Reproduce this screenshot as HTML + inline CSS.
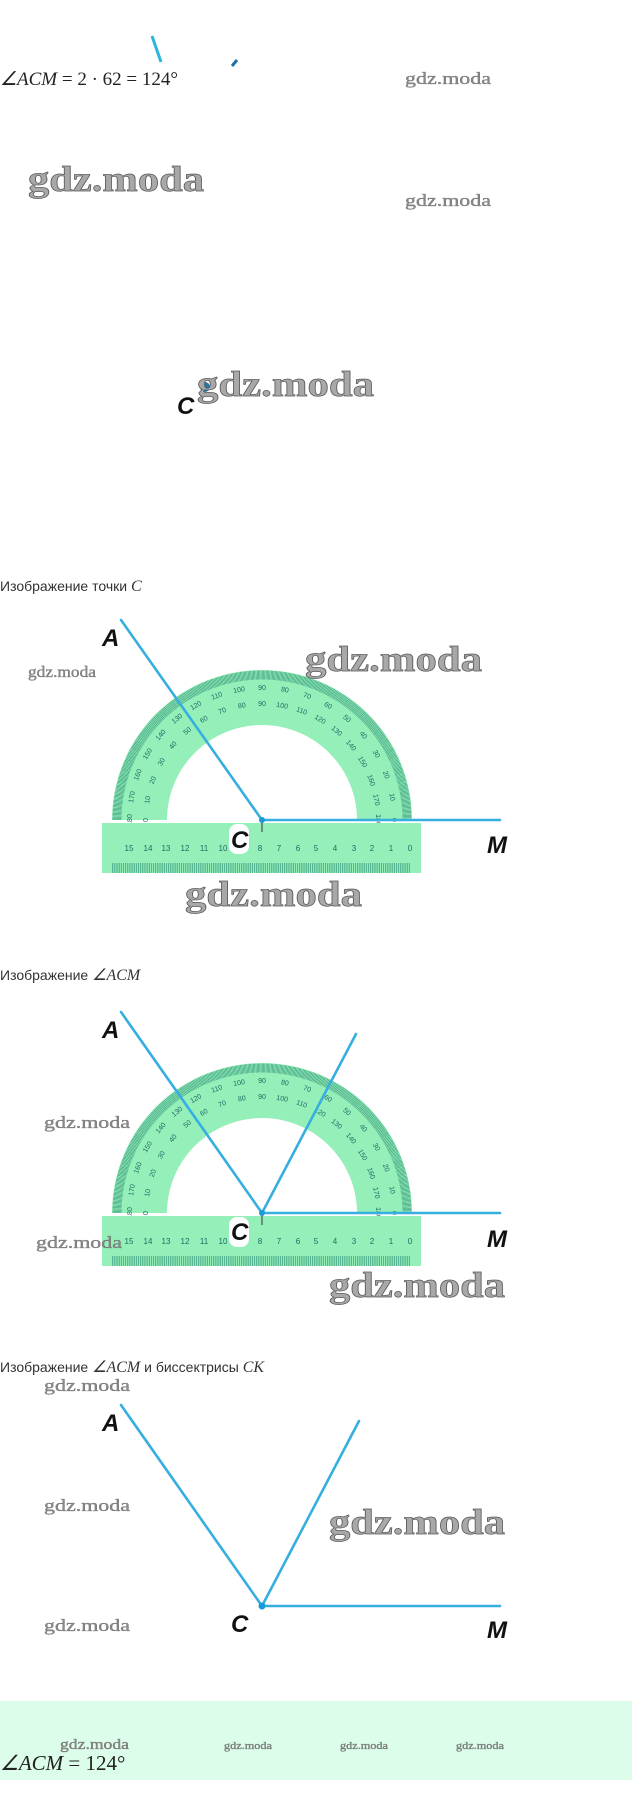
<!DOCTYPE html>
<html><head><meta charset="utf-8">
<style>
html,body{margin:0;padding:0;background:#fff;}
body{width:632px;height:1815px;overflow:hidden;position:relative;}
svg{position:absolute;left:0;top:0;}
.wm{font-family:"Liberation Serif",serif;font-weight:bold;fill:#a8a8a8;stroke:#555;stroke-width:0.7;}
.wms{font-family:"Liberation Serif",serif;fill:#8a8a8a;stroke:#666;stroke-width:0.3;}
.cap{font-family:"Liberation Sans",sans-serif;font-size:14px;fill:#333;}
.math{font-family:"Liberation Serif",serif;font-style:italic;}
.lbl{font-family:"Liberation Sans",sans-serif;font-weight:bold;font-style:italic;font-size:24px;fill:#111;}
.pn{font-family:"Liberation Sans",sans-serif;font-size:7px;fill:#1f6a66;text-anchor:middle;}
.rn{font-family:"Liberation Sans",sans-serif;font-size:8px;fill:#1f6a66;text-anchor:middle;}
.ln{stroke:#36aee0;stroke-width:2.6;fill:none;stroke-linecap:round;}
</style></head><body>
<svg width="632" height="1815" viewBox="0 0 632 1815" xmlns="http://www.w3.org/2000/svg">
<defs>
<clipPath id="top1"><rect x="0" y="600" width="632" height="220"/></clipPath>
</defs>

<line x1="152" y1="36" x2="161" y2="62" stroke="#2bb6e0" stroke-width="3"/>
<line x1="232" y1="66" x2="237" y2="60" stroke="#1d6fa8" stroke-width="3"/>
<text x="0" y="85" font-family="Liberation Serif,serif" font-size="19" fill="#222"><tspan class="math">∠ACM</tspan> = 2 · 62 = 124°</text>
<text class="wms" x="405" y="84" font-size="17" textLength="86" lengthAdjust="spacingAndGlyphs">gdz.moda</text>
<text class="wm" x="28" y="191" font-size="36" textLength="176" lengthAdjust="spacingAndGlyphs">gdz.moda</text>
<text class="wms" x="405" y="206" font-size="17" textLength="86" lengthAdjust="spacingAndGlyphs">gdz.moda</text>
<text class="lbl" x="177" y="414">C</text>
<circle cx="205" cy="387" r="5" fill="#1f78b0"/>
<text class="wm" x="197" y="396" font-size="36" textLength="177" lengthAdjust="spacingAndGlyphs">gdz.moda</text>

<text class="cap" x="0" y="591">Изображение точки <tspan class="math" font-size="16">C</tspan></text>

<g>
<path d="M112 820 A150 150 0 0 1 412 820 L357 820 A95 95 0 0 0 167 820 Z" fill="#95efb8"/>
<circle cx="262" cy="820" r="145" fill="none" stroke="#2e8f77" stroke-width="9" stroke-dasharray="0.5 0.765" clip-path="url(#top1)"/>
<text class="pn" x="262" y="690" transform="rotate(-90 262 820)">180</text>
<text class="pn" x="262" y="690" transform="rotate(-80 262 820)">170</text>
<text class="pn" x="262" y="690" transform="rotate(-70 262 820)">160</text>
<text class="pn" x="262" y="690" transform="rotate(-60 262 820)">150</text>
<text class="pn" x="262" y="690" transform="rotate(-50 262 820)">140</text>
<text class="pn" x="262" y="690" transform="rotate(-40 262 820)">130</text>
<text class="pn" x="262" y="690" transform="rotate(-30 262 820)">120</text>
<text class="pn" x="262" y="690" transform="rotate(-20 262 820)">110</text>
<text class="pn" x="262" y="690" transform="rotate(-10 262 820)">100</text>
<text class="pn" x="262" y="690">90</text>
<text class="pn" x="262" y="690" transform="rotate(10 262 820)">80</text>
<text class="pn" x="262" y="690" transform="rotate(20 262 820)">70</text>
<text class="pn" x="262" y="690" transform="rotate(30 262 820)">60</text>
<text class="pn" x="262" y="690" transform="rotate(40 262 820)">50</text>
<text class="pn" x="262" y="690" transform="rotate(50 262 820)">40</text>
<text class="pn" x="262" y="690" transform="rotate(60 262 820)">30</text>
<text class="pn" x="262" y="690" transform="rotate(70 262 820)">20</text>
<text class="pn" x="262" y="690" transform="rotate(80 262 820)">10</text>
<text class="pn" x="262" y="690" transform="rotate(90 262 820)">0</text>
<text class="pn" x="262" y="706" transform="rotate(-90 262 820)">0</text>
<text class="pn" x="262" y="706" transform="rotate(-80 262 820)">10</text>
<text class="pn" x="262" y="706" transform="rotate(-70 262 820)">20</text>
<text class="pn" x="262" y="706" transform="rotate(-60 262 820)">30</text>
<text class="pn" x="262" y="706" transform="rotate(-50 262 820)">40</text>
<text class="pn" x="262" y="706" transform="rotate(-40 262 820)">50</text>
<text class="pn" x="262" y="706" transform="rotate(-30 262 820)">60</text>
<text class="pn" x="262" y="706" transform="rotate(-20 262 820)">70</text>
<text class="pn" x="262" y="706" transform="rotate(-10 262 820)">80</text>
<text class="pn" x="262" y="706">90</text>
<text class="pn" x="262" y="706" transform="rotate(10 262 820)">100</text>
<text class="pn" x="262" y="706" transform="rotate(20 262 820)">110</text>
<text class="pn" x="262" y="706" transform="rotate(30 262 820)">120</text>
<text class="pn" x="262" y="706" transform="rotate(40 262 820)">130</text>
<text class="pn" x="262" y="706" transform="rotate(50 262 820)">140</text>
<text class="pn" x="262" y="706" transform="rotate(60 262 820)">150</text>
<text class="pn" x="262" y="706" transform="rotate(70 262 820)">160</text>
<text class="pn" x="262" y="706" transform="rotate(80 262 820)">170</text>
<text class="pn" x="262" y="706" transform="rotate(90 262 820)">180</text>
<rect x="102" y="823" width="319" height="50" fill="#95efb8"/>
<line x1="112" y1="866" x2="411" y2="866" stroke="#2e8f77" stroke-width="14" stroke-dasharray="0.6 1.27"/>
<line x1="112" y1="860" x2="411" y2="860" stroke="#95efb8" stroke-width="6"/>
<g class="rn">
<text x="129" y="851">15</text><text x="148" y="851">14</text><text x="166" y="851">13</text><text x="185" y="851">12</text>
<text x="204" y="851">11</text><text x="223" y="851">10</text><text x="241" y="851">9</text><text x="260" y="851">8</text>
<text x="279" y="851">7</text><text x="298" y="851">6</text><text x="316" y="851">5</text><text x="335" y="851">4</text>
<text x="354" y="851">3</text><text x="372" y="851">2</text><text x="391" y="851">1</text><text x="410" y="851">0</text>
</g>
</g>
<line class="ln" x1="121" y1="620" x2="262" y2="820"/>
<line class="ln" x1="262" y1="820" x2="500" y2="820"/>
<line x1="262" y1="820" x2="262" y2="832" stroke="#333" stroke-width="1"/>
<circle cx="262" cy="820" r="3" fill="#1a9ad8"/>
<rect x="229" y="824" width="20" height="30" rx="8" fill="#fff"/>
<text class="lbl" x="231" y="848">C</text>
<text class="lbl" x="102" y="646">A</text>
<text class="lbl" x="487" y="853">M</text>
<text class="wms" x="28" y="677" font-size="16" textLength="68" lengthAdjust="spacingAndGlyphs">gdz.moda</text>
<text class="wm" x="305" y="671" font-size="36" textLength="177" lengthAdjust="spacingAndGlyphs">gdz.moda</text>
<text class="wm" x="185" y="906" font-size="36" textLength="177" lengthAdjust="spacingAndGlyphs">gdz.moda</text>

<text class="cap" x="0" y="980">Изображение <tspan class="math" font-size="16">∠ACM</tspan></text>

<g transform="translate(0 393)">
<path d="M112 820 A150 150 0 0 1 412 820 L357 820 A95 95 0 0 0 167 820 Z" fill="#95efb8"/>
<circle cx="262" cy="820" r="145" fill="none" stroke="#2e8f77" stroke-width="9" stroke-dasharray="0.5 0.765" clip-path="url(#top1)"/>
<text class="pn" x="262" y="690" transform="rotate(-90 262 820)">180</text>
<text class="pn" x="262" y="690" transform="rotate(-80 262 820)">170</text>
<text class="pn" x="262" y="690" transform="rotate(-70 262 820)">160</text>
<text class="pn" x="262" y="690" transform="rotate(-60 262 820)">150</text>
<text class="pn" x="262" y="690" transform="rotate(-50 262 820)">140</text>
<text class="pn" x="262" y="690" transform="rotate(-40 262 820)">130</text>
<text class="pn" x="262" y="690" transform="rotate(-30 262 820)">120</text>
<text class="pn" x="262" y="690" transform="rotate(-20 262 820)">110</text>
<text class="pn" x="262" y="690" transform="rotate(-10 262 820)">100</text>
<text class="pn" x="262" y="690">90</text>
<text class="pn" x="262" y="690" transform="rotate(10 262 820)">80</text>
<text class="pn" x="262" y="690" transform="rotate(20 262 820)">70</text>
<text class="pn" x="262" y="690" transform="rotate(30 262 820)">60</text>
<text class="pn" x="262" y="690" transform="rotate(40 262 820)">50</text>
<text class="pn" x="262" y="690" transform="rotate(50 262 820)">40</text>
<text class="pn" x="262" y="690" transform="rotate(60 262 820)">30</text>
<text class="pn" x="262" y="690" transform="rotate(70 262 820)">20</text>
<text class="pn" x="262" y="690" transform="rotate(80 262 820)">10</text>
<text class="pn" x="262" y="690" transform="rotate(90 262 820)">0</text>
<text class="pn" x="262" y="706" transform="rotate(-90 262 820)">0</text>
<text class="pn" x="262" y="706" transform="rotate(-80 262 820)">10</text>
<text class="pn" x="262" y="706" transform="rotate(-70 262 820)">20</text>
<text class="pn" x="262" y="706" transform="rotate(-60 262 820)">30</text>
<text class="pn" x="262" y="706" transform="rotate(-50 262 820)">40</text>
<text class="pn" x="262" y="706" transform="rotate(-40 262 820)">50</text>
<text class="pn" x="262" y="706" transform="rotate(-30 262 820)">60</text>
<text class="pn" x="262" y="706" transform="rotate(-20 262 820)">70</text>
<text class="pn" x="262" y="706" transform="rotate(-10 262 820)">80</text>
<text class="pn" x="262" y="706">90</text>
<text class="pn" x="262" y="706" transform="rotate(10 262 820)">100</text>
<text class="pn" x="262" y="706" transform="rotate(20 262 820)">110</text>
<text class="pn" x="262" y="706" transform="rotate(30 262 820)">120</text>
<text class="pn" x="262" y="706" transform="rotate(40 262 820)">130</text>
<text class="pn" x="262" y="706" transform="rotate(50 262 820)">140</text>
<text class="pn" x="262" y="706" transform="rotate(60 262 820)">150</text>
<text class="pn" x="262" y="706" transform="rotate(70 262 820)">160</text>
<text class="pn" x="262" y="706" transform="rotate(80 262 820)">170</text>
<text class="pn" x="262" y="706" transform="rotate(90 262 820)">180</text>
<rect x="102" y="823" width="319" height="50" fill="#95efb8"/>
<line x1="112" y1="866" x2="411" y2="866" stroke="#2e8f77" stroke-width="14" stroke-dasharray="0.6 1.27"/>
<line x1="112" y1="860" x2="411" y2="860" stroke="#95efb8" stroke-width="6"/>
<g class="rn">
<text x="129" y="851">15</text><text x="148" y="851">14</text><text x="166" y="851">13</text><text x="185" y="851">12</text>
<text x="204" y="851">11</text><text x="223" y="851">10</text><text x="241" y="851">9</text><text x="260" y="851">8</text>
<text x="279" y="851">7</text><text x="298" y="851">6</text><text x="316" y="851">5</text><text x="335" y="851">4</text>
<text x="354" y="851">3</text><text x="372" y="851">2</text><text x="391" y="851">1</text><text x="410" y="851">0</text>
</g>
</g>
<line class="ln" x1="121" y1="1012" x2="262" y2="1213"/>
<line class="ln" x1="262" y1="1213" x2="356" y2="1034"/>
<line class="ln" x1="262" y1="1213" x2="500" y2="1213"/>
<line x1="262" y1="1213" x2="262" y2="1225" stroke="#333" stroke-width="1"/>
<circle cx="262" cy="1213" r="3" fill="#1a9ad8"/>
<rect x="229" y="1217" width="20" height="30" rx="8" fill="#fff"/>
<text class="lbl" x="231" y="1240">C</text>
<text class="lbl" x="102" y="1038">A</text>
<text class="lbl" x="487" y="1247">M</text>
<text class="wms" x="44" y="1128" font-size="17" textLength="86" lengthAdjust="spacingAndGlyphs">gdz.moda</text>
<text class="wms" x="36" y="1248" font-size="17" textLength="86" lengthAdjust="spacingAndGlyphs">gdz.moda</text>
<text class="wm" x="329" y="1297" font-size="36" textLength="176" lengthAdjust="spacingAndGlyphs">gdz.moda</text>

<text class="cap" x="0" y="1372">Изображение <tspan class="math" font-size="16">∠ACM</tspan> и биссектрисы <tspan class="math" font-size="16">CK</tspan></text>
<text class="wms" x="44" y="1391" font-size="17" textLength="86" lengthAdjust="spacingAndGlyphs">gdz.moda</text>

<line class="ln" x1="121" y1="1405" x2="262" y2="1606"/>
<line class="ln" x1="262" y1="1606" x2="359" y2="1421"/>
<line class="ln" x1="262" y1="1606" x2="500" y2="1606"/>
<circle cx="262" cy="1606" r="3.5" fill="#1a9ad8"/>
<text class="lbl" x="102" y="1431">A</text>
<text class="lbl" x="231" y="1632">C</text>
<text class="lbl" x="487" y="1638">M</text>
<text class="wms" x="44" y="1511" font-size="17" textLength="86" lengthAdjust="spacingAndGlyphs">gdz.moda</text>
<text class="wms" x="44" y="1631" font-size="17" textLength="86" lengthAdjust="spacingAndGlyphs">gdz.moda</text>
<text class="wm" x="329" y="1534" font-size="36" textLength="176" lengthAdjust="spacingAndGlyphs">gdz.moda</text>

<rect x="0" y="1701" width="632" height="79" fill="#dbfde9"/>
<text class="wms" x="60" y="1749" font-size="15" textLength="69" lengthAdjust="spacingAndGlyphs">gdz.moda</text>
<text class="wms" x="224" y="1749" font-size="11" textLength="48" lengthAdjust="spacingAndGlyphs">gdz.moda</text>
<text class="wms" x="340" y="1749" font-size="11" textLength="48" lengthAdjust="spacingAndGlyphs">gdz.moda</text>
<text class="wms" x="456" y="1749" font-size="11" textLength="48" lengthAdjust="spacingAndGlyphs">gdz.moda</text>
<text x="0" y="1770" font-family="Liberation Serif,serif" font-size="21" fill="#222"><tspan class="math">∠ACM</tspan> = 124°</text>
</svg>
</body></html>
